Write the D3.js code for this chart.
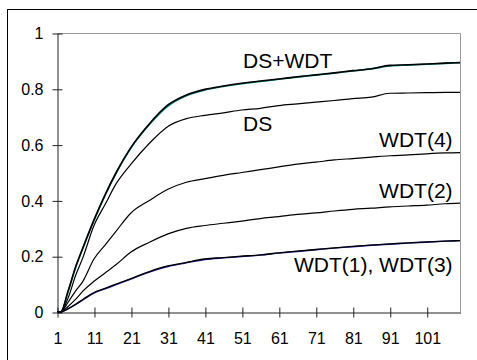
<html lang="en">
<head>
  <meta charset="UTF-8">
  <title>DS / WDT curves</title>
  <script src="https://d3js.org/d3.v7.min.js"></script>
</head>
<style>
  body { margin: 0; background: #fff; }
  text { font-family: Arial, "Liberation Sans", sans-serif; fill: #000; }
</style>
<body>
  <svg class="chart" width="477" height="360"></svg>
  <script>
    // sampled positions along the x axis (category numbers)
    const steps = [1, 2, 4, 6, 8, 11, 14, 17, 21, 26, 31, 36, 41, 46, 51, 56, 61, 66, 71, 76, 81, 86, 91, 96, 101, 106, 110];

    const dsWdt = [0, 0, 0.075, 0.16, 0.23, 0.33, 0.42, 0.50, 0.59, 0.675, 0.742, 0.778, 0.798, 0.810, 0.820, 0.828, 0.835, 0.843, 0.850, 0.857, 0.865, 0.872, 0.884, 0.886, 0.889, 0.892, 0.894];
    const dsWdtB = [0, 0, 0.073, 0.158, 0.228, 0.328, 0.418, 0.498, 0.588, 0.672, 0.738, 0.775, 0.796, 0.808, 0.818, 0.826, 0.834, 0.842, 0.849, 0.856, 0.864, 0.871, 0.882, 0.885, 0.888, 0.891, 0.893];
    const ds = [0, 0, 0.05, 0.13, 0.195, 0.31, 0.385, 0.46, 0.53, 0.605, 0.665, 0.693, 0.705, 0.714, 0.724, 0.730, 0.740, 0.746, 0.752, 0.758, 0.765, 0.770, 0.784, 0.785, 0.786, 0.787, 0.787];
    const wdt4 = [0, 0, 0.035, 0.075, 0.11, 0.19, 0.24, 0.29, 0.355, 0.40, 0.44, 0.465, 0.478, 0.49, 0.50, 0.51, 0.52, 0.53, 0.537, 0.545, 0.55, 0.555, 0.56, 0.563, 0.567, 0.57, 0.571];
    const wdt2 = [0, 0, 0.02, 0.045, 0.075, 0.11, 0.14, 0.17, 0.215, 0.25, 0.28, 0.30, 0.31, 0.318, 0.326, 0.335, 0.342, 0.35, 0.355, 0.362, 0.368, 0.372, 0.377, 0.38, 0.383, 0.388, 0.39];
    const wdt1 = [0, 0, 0.012, 0.028, 0.045, 0.07, 0.085, 0.10, 0.12, 0.145, 0.165, 0.178, 0.19, 0.195, 0.20, 0.205, 0.212, 0.218, 0.224, 0.23, 0.235, 0.24, 0.244, 0.248, 0.251, 0.254, 0.256];
    const wdt3 = [0, 0, 0.011, 0.026, 0.043, 0.068, 0.083, 0.098, 0.118, 0.143, 0.163, 0.176, 0.188, 0.194, 0.199, 0.204, 0.211, 0.217, 0.223, 0.229, 0.234, 0.239, 0.243, 0.247, 0.250, 0.254, 0.256];

    const xTicks = [1, 11, 21, 31, 41, 51, 61, 71, 81, 91, 101];
    const yTicks = [0, 0.2, 0.4, 0.6, 0.8, 1];

    const labels = [
      { text: 'DS+WDT', x: 51.3, y: 0.876, anchor: 'start' },
      { text: 'DS', x: 51.3, y: 0.65, anchor: 'start' },
      { text: 'WDT(4)', x: 108, y: 0.591, anchor: 'end' },
      { text: 'WDT(2)', x: 108, y: 0.41, anchor: 'end' },
      { text: 'WDT(1), WDT(3)', x: 108, y: 0.145, anchor: 'end' }
    ];

    const svg = d3.select('svg.chart');
    const plot = { left: 57, top: 33, right: 460, bottom: 312 };

    // outer chart frame
    svg.append('rect')
      .attr('x', 7.5).attr('y', 9.5)
      .attr('width', 480).attr('height', 400)
      .attr('fill', 'none').attr('stroke', '#000');

    const xScale = d3.scaleLinear().domain([1, 110]).range([plot.left, plot.right]);
    const yScale = d3.scaleLinear().domain([0, 1]).range([plot.bottom, plot.top]);

    // plot area border (top and right only show in grey)
    svg.append('path')
      .attr('d', `M${plot.left},${plot.top + 0.5}H${plot.right + 0.5}V${plot.bottom}`)
      .attr('fill', 'none').attr('stroke', '#999');

    const leftAxis = d3.axisLeft(yScale).tickValues(yTicks)
      .tickSizeInner(5).tickSizeOuter(0).tickPadding(9)
      .tickFormat(d => d3.format('')(d));
    const gy = svg.append('g')
      .attr('transform', `translate(${plot.left + 0.5},0.5)`)
      .call(leftAxis);
    gy.selectAll('.tick line').attr('x1', 5);

    const bottomAxis = d3.axisBottom(xScale).tickValues(xTicks)
      .tickSizeInner(5).tickSizeOuter(0).tickPadding(15);
    const gx = svg.append('g')
      .attr('transform', `translate(0.5,${plot.bottom + 0.5})`)
      .call(bottomAxis);
    gx.selectAll('.tick line').attr('y1', -5);

    [gx, gy].forEach(g => {
      g.select('.domain').attr('stroke', '#222');
      g.selectAll('.tick line').attr('stroke', '#222');
      g.selectAll('text').style('font-size', '16px').attr('fill', '#000');
    });

    const line = d3.line()
      .x((d, i) => xScale(steps[i]))
      .y(d => yScale(d))
      .curve(d3.curveMonotoneX);

    const series = [
      { values: dsWdtB, color: '#008080', width: 1.6 },
      { values: dsWdt, color: '#000', width: 1.6 },
      { values: ds, color: '#000', width: 1.2 },
      { values: wdt4, color: '#000', width: 1.2 },
      { values: wdt2, color: '#000', width: 1.2 },
      { values: wdt3, color: '#1a1aa0', width: 1.4 },
      { values: wdt1, color: '#000', width: 1.3 }
    ];

    series.forEach(s => {
      svg.append('path')
        .attr('d', line(s.values))
        .attr('fill', 'none')
        .attr('stroke', s.color)
        .attr('stroke-width', s.width);
    });

    labels.forEach(l => {
      svg.append('text')
        .attr('x', xScale(l.x))
        .attr('y', yScale(l.y))
        .attr('text-anchor', l.anchor)
        .style('font-size', '21px')
        .text(l.text);
    });
  </script>
</body>
</html>
